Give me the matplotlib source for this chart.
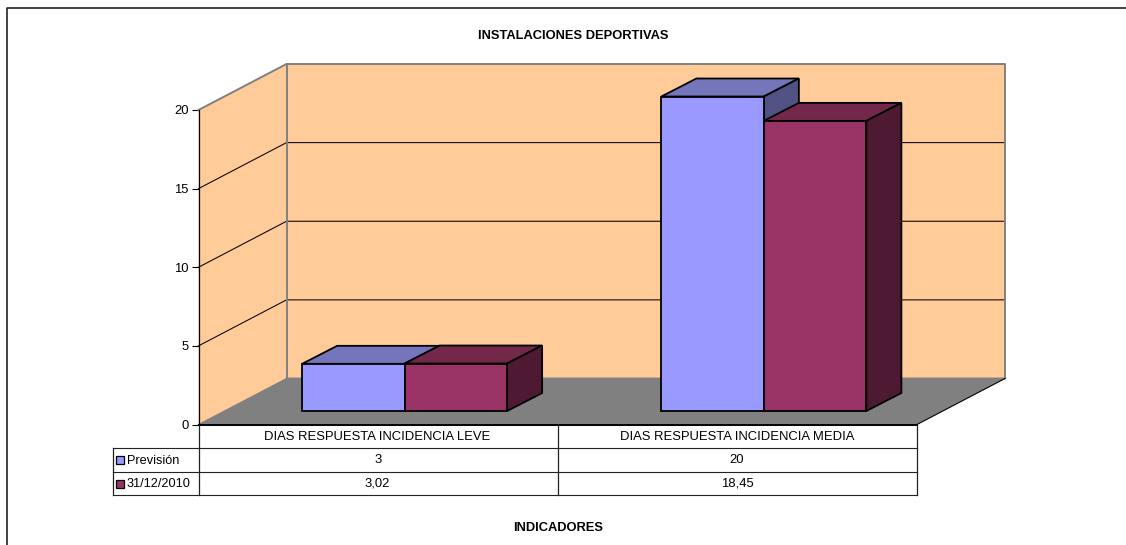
import matplotlib
matplotlib.use('Agg')
import matplotlib.pyplot as plt

plt.rcParams['font.family'] = ['Liberation Sans', 'DejaVu Sans']

# Data
categories = ['DIAS RESPUESTA INCIDENCIA LEVE', 'DIAS RESPUESTA INCIDENCIA MEDIA']
series_names = ['Previsión', '31/12/2010']
prevision = [3, 20]
real = [3.02, 18.45]
y_ticks = [0, 5, 10, 15, 20]

W, H = 1126, 545
# plot box in pixels
left, right, top, bottom = 198.5, 917, 110, 424.5
px_x = 2 / (right - left)
px_y = 20 / (bottom - top)

# 3d offsets in data units
wall_dx = 88 * px_x
wall_dy = 46 * px_y
bar_dx = 35 * px_x
bar_dy = 18 * px_y
base_dx = 26.5 * px_x
base_dy = 13.5 * px_y
bar_w = 102.5 * px_x

colors = ['#9999FF', '#993366']
top_colors = ['#7575BB', '#732849']
side_colors = ['#4F5282', '#4D1933']
GREY = '#808080'
FS = 9.4

fig = plt.figure(figsize=(W / 100, H / 100), dpi=100)

# overlay in pixels for frame, titles and table
pix = fig.add_axes([0, 0, 1, 1], zorder=2)
pix.set_xlim(0, W)
pix.set_ylim(H, 0)
pix.axis('off')

ax = fig.add_axes([left / W, 1 - bottom / H, (right - left) / W, (bottom - top) / H], zorder=1)
ax.set_xlim(0, 2)
ax.set_ylim(0, 20)
for s in ['top', 'right', 'bottom']:
    ax.spines[s].set_visible(False)
ax.spines['left'].set_linewidth(0.9)
ax.spines['left'].set_zorder(6)
ax.set_xticks([])
ax.set_yticks(y_ticks)
ax.tick_params(axis='y', length=5, width=0.8, pad=2, labelsize=FS)
ax.patch.set_visible(False)

# walls and floor
ax.fill([0, wall_dx, wall_dx, 0], [0, wall_dy, 20 + wall_dy, 20],
        color='#FFCC99', lw=0, clip_on=False, zorder=1)
ax.fill([wall_dx, 2 + wall_dx, 2 + wall_dx, wall_dx], [wall_dy, wall_dy, 20 + wall_dy, 20 + wall_dy],
        color='#FFCC99', lw=0, clip_on=False, zorder=1)
ax.fill([0, 2, 2 + wall_dx, wall_dx], [0, 0, wall_dy, wall_dy],
        color=GREY, lw=0, clip_on=False, zorder=1)

# gridlines
for t in y_ticks[1:-1]:
    ax.plot([0, wall_dx, 2 + wall_dx], [t, t + wall_dy, t + wall_dy],
            color='black', lw=0.75, clip_on=False, zorder=2)

# wall outline
ax.plot([0, wall_dx, 2 + wall_dx, 2 + wall_dx, wall_dx],
        [20, 20 + wall_dy, 20 + wall_dy, wall_dy, wall_dy],
        color=GREY, lw=1.4, clip_on=False, zorder=2)
ax.plot([wall_dx, wall_dx], [wall_dy, 20 + wall_dy], color=GREY, lw=1.4, clip_on=False, zorder=2)
ax.plot([0, wall_dx], [0, wall_dy], color=GREY, lw=0.8, clip_on=False, zorder=2)
ax.plot([2, 2 + wall_dx], [0, wall_dy], color='black', lw=0.8, clip_on=False, zorder=2)
ax.plot([0, 2], [0, 0], color='black', lw=1.4, clip_on=False, zorder=5)

# bars
for i in range(len(categories)):
    for j, vals in enumerate([prevision, real]):
        v = vals[i]
        x0 = i + 0.5 + (j - 1) * bar_w + base_dx
        x1 = x0 + bar_w
        y1 = base_dy + v
        z = 3 + j * 0.1
        ax.fill([x0, x1, x1 + bar_dx, x0 + bar_dx], [y1, y1, y1 + bar_dy, y1 + bar_dy],
                facecolor=top_colors[j], edgecolor='black', lw=1.3, clip_on=False, zorder=z)
        ax.fill([x1, x1 + bar_dx, x1 + bar_dx, x1],
                [base_dy, base_dy + bar_dy, y1 + bar_dy, y1],
                facecolor=side_colors[j], edgecolor='black', lw=1.3, clip_on=False, zorder=z)
        ax.bar(x0, v, bar_w, bottom=base_dy, align='edge', color=colors[j],
               edgecolor='black', lw=1.3, clip_on=False, zorder=z)

# frame (open on right and bottom)
pix.plot([6.5, 6.5, W], [H, 8, 8], color='#222222', lw=1.2)

# titles
pix.text(573, 36, 'INSTALACIONES DEPORTIVAS', fontsize=FS - 0.1, fontweight='bold', ha='center', va='center')
pix.text(558, 528, 'INDICADORES', fontsize=FS - 0.1, fontweight='bold', ha='center', va='center')

# data table
col_x = [left, (left + right) / 2, right]
row_y = [424.5, 448, 472, 495]
leg_x = 113
tc = '#222222'
for yy in row_y[1:]:
    pix.plot([leg_x, right], [yy, yy], color=tc, lw=0.8)
pix.plot([leg_x, leg_x], [row_y[1], row_y[3]], color=tc, lw=0.9)
for xx in col_x:
    pix.plot([xx, xx], [row_y[0], row_y[3]], color=tc, lw=0.9)
for i, name in enumerate(categories):
    xc = (col_x[i] + col_x[i + 1]) / 2 - 0.5
    pix.text(xc, 436.5, name, fontsize=FS, ha='center', va='center')
    pix.text(xc, 460, str(prevision[i]).replace('.', ','), fontsize=FS, ha='center', va='center')
    pix.text(xc, 483.5, str(real[i]).replace('.', ','), fontsize=FS, ha='center', va='center')
for j, name in enumerate(series_names):
    yc = (row_y[j + 1] + row_y[j + 2]) / 2
    pix.plot([120], [yc], marker='s', ms=6, mfc=colors[j], mec='black', mew=0.9)
    pix.text(127, yc + 0.5, name, fontsize=FS - 0.2, ha='left', va='center')

fig.savefig('out.png', dpi=100)
